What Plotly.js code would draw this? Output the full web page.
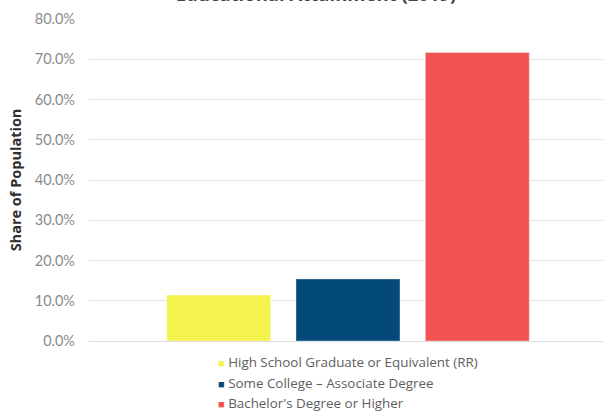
<!DOCTYPE html>
<html>
<head>
<meta charset="utf-8">
<script src="https://cdn.plot.ly/plotly-3.0.1.min.js"></script>
<style>
  html, body { margin: 0; padding: 0; background: #ffffff; }
  #chart { width: 603px; height: 411px; }
</style>
</head>
<body>
<div id="chart"></div>
<script>
// Educational attainment, share of population by highest level reached
const category = ['2019'];
const seriesNames = [
  'High School Graduate or Equivalent (RR)',
  'Some College \u2013 Associate Degree',
  "Bachelor's Degree or Higher"
];
const seriesValues = [0.114, 0.154, 0.717];
const seriesColors = ['#F5F250', '#034A7A', '#F45353'];
const yTickVals = [0, 0.1, 0.2, 0.3, 0.4, 0.5, 0.6, 0.7, 0.8];

const traces = seriesNames.map((name, i) => ({
  type: 'bar',
  name: name,
  x: category,
  y: [seriesValues[i]],
  marker: {
    color: seriesColors[i],
    line: { color: 'rgba(255,255,255,0.35)', width: 1 }
  },
  showlegend: false,
  hoverinfo: 'name+y'
}));

// Legend rows drawn as text with a coloured square glyph
const legendRowsY = [-0.066, -0.131, -0.193];
const legendNotes = seriesNames.map((name, i) => ({
  xref: 'paper', yref: 'paper',
  x: 0.249, y: legendRowsY[i],
  xanchor: 'left', yanchor: 'middle',
  showarrow: false, borderpad: 0,
  align: 'left',
  text: '<span style="color:' + seriesColors[i] + ';font-size:11px">\u25A0</span> ' + name,
  font: { family: 'Open Sans, sans-serif', size: 13.4, color: '#5e5e5e' }
}));

const layout = {
  width: 603,
  height: 411,
  margin: { l: 89, r: 0, t: 19, b: 70 },
  paper_bgcolor: '#ffffff',
  plot_bgcolor: '#ffffff',
  barmode: 'group',
  bargap: 0.251,
  bargroupgap: 0.196,
  title: {
    text: '<b>Educational Attainment (2019)</b>',
    xref: 'container', yref: 'container',
    x: 0.524, xanchor: 'center',
    y: 0.997, yanchor: 'bottom',
    pad: { t: 0, b: 0 },
    font: { family: 'Open Sans, sans-serif', size: 18.5, color: '#444444' }
  },
  xaxis: {
    type: 'category',
    range: [-0.5, 0.4923],
    showticklabels: false,
    showgrid: false,
    zeroline: false,
    showline: false,
    fixedrange: true
  },
  yaxis: {
    range: [0, 0.8],
    tickvals: yTickVals,
    tickformat: '.1%',
    showgrid: true,
    gridcolor: '#e3e3e3',
    gridwidth: 1,
    zeroline: true,
    zerolinecolor: '#dcdcdc',
    zerolinewidth: 1,
    showline: false,
    ticks: '',
    ticklabelstandoff: 13,
    tickfont: { family: 'Lato, sans-serif', size: 14.5, color: '#8a8a8a' },
    title: {
      text: '<b>Share of Population</b>',
      font: { family: 'Open Sans, sans-serif', size: 14.5, color: '#2e2e2e' },
      standoff: 9
    },
    automargin: true
  },
  annotations: legendNotes,
  showlegend: false
};

Plotly.newPlot('chart', traces, layout, { displayModeBar: false, staticPlot: true });
</script>
</body>
</html>
